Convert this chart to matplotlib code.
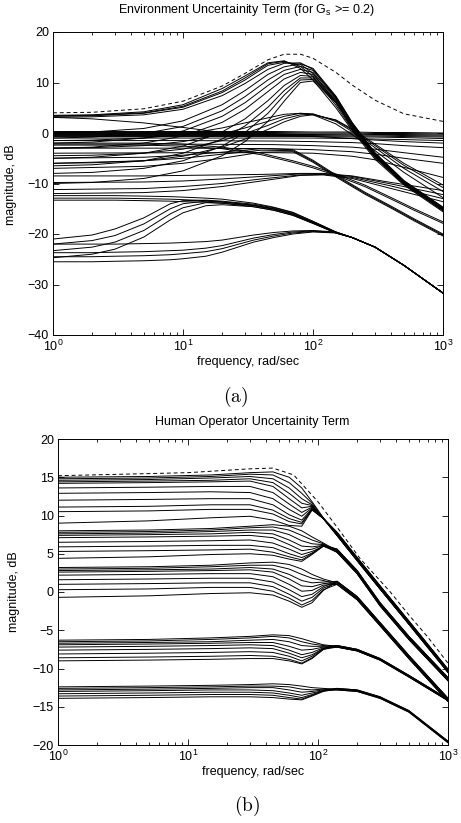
import matplotlib
matplotlib.use("Agg")
import matplotlib.pyplot as plt

plt.rcParams["font.family"] = ["Liberation Sans", "DejaVu Sans"]
plt.rcParams["mathtext.fontset"] = "custom"
plt.rcParams["mathtext.rm"] = "Liberation Sans"
plt.rcParams["mathtext.it"] = "Liberation Sans:italic"
plt.rcParams["mathtext.bf"] = "Liberation Sans:bold"

# ---------------- panel (a): environment uncertainty ----------------
FREQ_A = [1, 2, 5, 10, 20, 30, 45, 60, 80, 100, 150, 200, 300, 500, 1000]
env_bound = [4.0, 4.1, 4.8, 6.3, 9.3, 11.8, 14.5, 15.6, 15.6, 14.8, 12.0, 9.5, 6.5, 3.8, 2.3]
env_peak = [
    [3.5, 3.6, 4.2, 5.6, 8.8, 11.3, 13.9, 14.3, 12.8, 10.5, 5.0, 0.5, -5.2, -10.3, -15.6],
    [3.3, 3.4, 3.9, 5.1, 8.0, 10.5, 13.4, 14.0, 13.6, 11.8, 6.0, 1.2, -4.6, -9.9, -15.2],
    [3.1, 3.2, 3.6, 4.7, 7.4, 9.8, 12.6, 13.8, 13.9, 12.6, 7.0, 1.8, -4.2, -9.6, -14.9],
    [3.4, 3.5, 4.0, 5.3, 8.3, 10.9, 13.7, 14.2, 13.2, 11.2, 5.5, 0.8, -4.9, -10.1, -15.4],
    [0.0, 0.2, 0.9, 2.4, 5.6, 8.4, 11.6, 13.1, 13.7, 12.8, 7.3, 2.1, -3.9, -9.4, -14.7],
    [-1.0, -0.8, -0.1, 1.3, 4.4, 7.2, 10.5, 12.4, 13.2, 12.4, 7.2, 2.0, -4.0, -9.5, -14.7],
    [-2.0, -1.8, -1.0, 0.4, 3.3, 6.0, 9.4, 11.6, 12.6, 12.0, 7.0, 1.8, -4.1, -9.6, -14.8],
    [-3.0, -2.8, -2.0, -0.6, 2.1, 4.7, 8.2, 10.7, 12.0, 11.6, 6.8, 1.7, -4.2, -9.7, -14.9],
    [-5.0, -4.8, -4.0, -2.6, 0.2, 2.8, 6.4, 9.4, 11.4, 11.2, 6.6, 1.5, -4.4, -9.8, -15.0],
    [-6.5, -6.3, -5.5, -4.0, -1.2, 1.4, 5.1, 8.4, 10.9, 10.9, 6.4, 1.3, -4.5, -9.9, -15.1],
    [-8.0, -7.8, -7.0, -5.5, -2.6, 0.1, 3.9, 7.5, 10.5, 10.6, 6.2, 1.2, -4.6, -10.0, -15.2],
    [-10.0, -9.8, -9.0, -7.5, -4.5, -1.7, 2.3, 6.3, 10.0, 10.3, 6.0, 1.0, -4.7, -10.1, -15.3],
]
env_hump = [
    [3.1, 2.8, 2.0, 1.1, 0.1, -0.2, -0.4, -0.5, -0.6, -0.7, -0.9, -1.1, -1.4, -1.7, -2.0],
    [-1.5, -1.4, -1.0, -0.3, 1.0, 2.0, 3.0, 3.7, 3.9, 3.6, 1.8, -0.3, -3.5, -7.8, -12.8],
    [-3.0, -2.9, -2.5, -1.7, -0.2, 1.0, 2.3, 3.3, 3.9, 3.8, 2.3, 0.3, -2.9, -7.0, -11.6],
    [-4.5, -4.4, -4.0, -3.2, -1.5, -0.1, 1.5, 2.8, 3.6, 3.7, 2.5, 0.6, -2.5, -6.4, -10.8],
    [-6.0, -5.9, -5.5, -4.6, -2.8, -1.2, 0.7, 2.2, 3.3, 3.6, 2.6, 0.8, -2.2, -6.0, -10.3],
]

FREQ_FLAT = [1, 10, 50, 100, 200, 300, 500, 1000]
env_flat = [
    [0.3, 0.3, 0.3, 0.2, 0.2, 0.1, 0.1, 0.0],
    [0.1, 0.1, 0.1, 0.0, 0.0, -0.1, -0.1, -0.2],
    [-0.1, -0.1, -0.1, -0.2, -0.2, -0.3, -0.3, -0.4],
    [-0.3, -0.3, -0.3, -0.3, -0.4, -0.4, -0.5, -0.6],
    [-0.5, -0.5, -0.5, -0.5, -0.6, -0.6, -0.7, -0.8],
    [-0.7, -0.7, -0.7, -0.7, -0.8, -0.8, -0.9, -1.1],
    [-1.0, -1.0, -1.0, -1.0, -1.1, -1.2, -1.3, -1.5],
    [-1.5, -1.5, -1.6, -1.7, -1.9, -2.1, -2.5, -2.9],
    [-2.2, -2.2, -2.3, -2.5, -2.8, -3.2, -3.9, -4.8],
    [-3.0, -3.0, -3.1, -3.3, -3.7, -4.2, -5.0, -6.0],
    [-4.0, -3.9, -3.9, -4.0, -4.6, -5.3, -6.8, -8.8],
]

FREQ_DROP = [1, 5, 10, 20, 40, 70, 100, 150, 250, 400, 600, 1000]
env_drop = [
    [-2.0, -2.0, -2.2, -2.8, -4.0, -5.5, -6.6, -8.1, -10.3, -12.8, -15.0, -17.6],
    [-2.4, -2.4, -2.6, -3.1, -4.3, -5.8, -6.9, -8.4, -10.6, -13.1, -15.3, -17.9],
    [-5.0, -4.8, -4.4, -3.8, -3.1, -3.3, -5.4, -8.3, -11.7, -14.5, -17.0, -20.0],
    [-6.0, -5.5, -5.0, -4.2, -3.4, -3.5, -5.6, -8.5, -11.9, -14.7, -17.2, -20.2],
    [-7.0, -6.6, -6.0, -5.0, -3.8, -3.7, -5.8, -8.7, -12.1, -14.9, -17.4, -20.4],
]

FREQ_MID = [1, 5, 10, 20, 40, 80, 120, 200, 400, 1000]
env_mid = [
    [-8.5, -8.5, -8.4, -8.3, -8.2, -8.0, -8.0, -8.5, -9.8, -11.4],
    [-9.8, -9.7, -9.5, -9.1, -8.6, -8.1, -8.1, -8.6, -10.1, -12.2],
    [-11.2, -11.0, -10.6, -10.0, -9.1, -8.3, -8.2, -8.8, -10.5, -13.0],
    [-12.0, -11.8, -11.4, -10.6, -9.5, -8.4, -8.3, -9.0, -11.0, -13.6],
]

FREQ_LOW = [1, 2, 3, 5, 8, 10, 15, 20, 35, 50, 70, 100, 150, 200, 300, 500, 1000]
env_low = [
    [-12.4, -12.4, -12.4, -12.5, -12.6, -12.7, -12.9, -13.1, -13.9, -14.7, -15.7, -17.5, -19.6, -20.7, -22.6, -26.2, -31.7],
    [-12.9, -12.9, -12.9, -13.0, -13.1, -13.2, -13.4, -13.6, -14.3, -15.0, -16.0, -17.7, -19.7, -20.7, -22.6, -26.2, -31.7],
    [-13.3, -13.3, -13.3, -13.4, -13.5, -13.6, -13.7, -13.9, -14.6, -15.3, -16.3, -17.9, -19.8, -20.7, -22.6, -26.2, -31.7],
    [-21.0, -20.2, -19.0, -16.8, -14.0, -13.4, -13.3, -13.5, -14.1, -14.8, -15.8, -17.5, -19.6, -20.7, -22.6, -26.2, -31.7],
    [-22.0, -21.3, -20.3, -18.0, -15.0, -14.0, -13.5, -13.7, -14.3, -15.0, -16.0, -17.7, -19.7, -20.7, -22.6, -26.2, -31.7],
    [-23.3, -22.6, -21.6, -19.3, -16.0, -14.8, -13.8, -13.9, -14.4, -15.1, -16.1, -17.8, -19.8, -20.7, -22.6, -26.2, -31.7],
    [-24.7, -24.0, -23.0, -20.6, -17.2, -15.8, -14.4, -14.2, -14.6, -15.3, -16.3, -17.9, -19.8, -20.7, -22.6, -26.2, -31.7],
    [-22.0, -22.0, -22.0, -21.9, -21.8, -21.7, -21.5, -21.2, -20.2, -19.7, -19.4, -19.3, -19.6, -20.7, -22.6, -26.2, -31.7],
    [-23.7, -23.7, -23.6, -23.5, -23.3, -23.2, -22.8, -22.3, -20.8, -20.1, -19.6, -19.4, -19.7, -20.7, -22.6, -26.2, -31.7],
    [-24.5, -24.5, -24.4, -24.3, -24.1, -23.9, -23.5, -22.9, -21.2, -20.4, -19.8, -19.5, -19.7, -20.7, -22.6, -26.2, -31.7],
    [-25.5, -25.5, -25.4, -25.3, -25.1, -24.9, -24.4, -23.6, -21.6, -20.7, -20.0, -19.6, -19.8, -20.7, -22.6, -26.2, -31.7],
]

# ---------------- panel (b): human operator uncertainty ----------------
FREQ_B_BOUND = [1, 10, 30, 45, 65, 100, 150, 210, 360, 500, 700, 1000]
hum_bound = [15.2, 15.6, 16.1, 16.2, 15.3, 11.8, 7.8, 4.4, 0.0, -3.0, -5.9, -9.3]

FREQ_B_HEAD = [1, 5, 15, 30, 45, 60, 75, 90, 110]
FREQ_B_TAIL = [140, 200, 300, 500, 1000]

hum_top = [
    [15.0, 15.1, 15.3, 15.6, 15.7, 15.0, 13.6, 11.8, 9.7],
    [14.8, 14.9, 15.1, 15.4, 15.3, 14.3, 12.9, 11.6, 9.6],
    [14.6, 14.7, 14.9, 15.1, 14.8, 13.6, 12.2, 11.4, 9.6],
    [14.4, 14.5, 14.6, 14.8, 14.3, 12.9, 11.6, 11.3, 9.6],
    [14.2, 14.3, 14.4, 14.5, 13.8, 12.2, 11.0, 11.2, 9.6],
    [13.6, 13.7, 13.8, 13.8, 13.0, 11.5, 10.4, 11.1, 9.6],
    [12.9, 13.0, 13.1, 13.0, 12.2, 10.8, 9.9, 11.0, 9.6],
    [12.0, 12.1, 12.2, 12.2, 11.4, 10.1, 9.4, 10.9, 9.6],
    [11.1, 11.2, 11.4, 11.4, 10.7, 9.6, 9.1, 10.8, 9.6],
    [10.5, 10.6, 10.8, 10.8, 10.2, 9.2, 8.9, 10.8, 9.6],
    [9.0, 9.3, 9.7, 9.9, 9.4, 8.7, 8.6, 10.7, 9.6],
]
hum_top_tail = [
    [7.6, 4.3, 0.6, -4.0, -10.3],
    [7.4, 4.1, 0.4, -4.2, -10.5],
    [7.8, 4.5, 0.8, -3.8, -10.1],
]

hum_mid = [
    [8.0, 8.1, 8.3, 8.6, 8.8, 8.6, 8.0, 7.2, 6.4],
    [7.8, 7.9, 8.1, 8.4, 8.5, 8.1, 7.4, 6.8, 6.3],
    [7.6, 7.7, 7.9, 8.1, 8.1, 7.5, 6.7, 6.3, 6.2],
    [7.4, 7.5, 7.6, 7.8, 7.6, 6.8, 6.0, 5.9, 6.1],
    [7.1, 7.2, 7.3, 7.4, 7.1, 6.2, 5.4, 5.6, 6.1],
    [6.5, 6.6, 6.7, 6.8, 6.4, 5.6, 4.9, 5.3, 6.0],
    [5.9, 6.0, 6.1, 6.1, 5.8, 5.0, 4.5, 5.1, 6.0],
    [5.3, 5.4, 5.5, 5.6, 5.2, 4.6, 4.2, 5.0, 6.0],
    [4.4, 4.6, 4.9, 5.0, 4.8, 4.3, 4.0, 4.9, 6.0],
]
hum_mid_tail = [
    [5.4, 2.6, -1.6, -6.0, -11.4],
    [5.2, 2.4, -1.8, -6.2, -11.6],
    [5.6, 2.8, -1.4, -5.8, -11.2],
]

hum_low = [
    [3.2, 3.3, 3.5, 3.8, 3.9, 3.6, 3.0, 2.3, 1.7],
    [3.0, 3.1, 3.3, 3.5, 3.5, 3.0, 2.3, 1.8, 1.5],
    [2.8, 2.9, 3.0, 3.2, 3.0, 2.3, 1.5, 1.2, 1.3],
    [2.6, 2.7, 2.8, 2.9, 2.6, 1.7, 0.8, 0.7, 1.1],
    [2.2, 2.3, 2.4, 2.4, 2.0, 1.0, 0.1, 0.2, 0.9],
    [1.6, 1.7, 1.8, 1.8, 1.3, 0.3, -0.6, -0.3, 0.7],
    [1.0, 1.1, 1.2, 1.2, 0.7, -0.3, -1.2, -0.7, 0.5],
    [0.3, 0.4, 0.6, 0.6, 0.1, -0.8, -1.7, -1.1, 0.3],
    [-0.7, -0.5, -0.2, -0.1, -0.4, -1.2, -2.0, -1.4, 0.2],
]
hum_low_tail = [
    [1.2, -0.8, -4.2, -8.5, -14.1],
    [1.0, -1.0, -4.4, -8.7, -14.3],
    [1.4, -0.6, -4.0, -8.3, -13.9],
]

hum_neg6 = [
    [-6.3, -6.2, -6.0, -5.8, -5.6, -5.7, -6.1, -6.5, -6.9],
    [-6.5, -6.4, -6.2, -6.0, -5.8, -6.0, -6.5, -6.8, -7.0],
    [-6.7, -6.6, -6.5, -6.3, -6.2, -6.5, -7.0, -7.1, -7.1],
    [-6.9, -6.8, -6.7, -6.6, -6.6, -7.1, -7.6, -7.5, -7.2],
    [-7.2, -7.1, -7.0, -6.9, -7.0, -7.6, -8.2, -7.9, -7.3],
    [-7.6, -7.5, -7.4, -7.3, -7.4, -8.0, -8.6, -8.2, -7.4],
    [-8.1, -8.0, -7.9, -7.8, -7.9, -8.4, -9.0, -8.4, -7.4],
    [-8.6, -8.5, -8.4, -8.3, -8.4, -8.8, -9.3, -8.6, -7.5],
    [-9.0, -8.9, -8.8, -8.7, -8.7, -9.0, -9.4, -8.7, -7.5],
]
hum_neg6_tail = [
    [-7.1, -7.6, -8.8, -11.0, -14.1],
    [-7.2, -7.7, -8.9, -11.1, -14.2],
    [-7.0, -7.5, -8.7, -10.9, -14.0],
]

hum_neg13 = [
    [-12.4, -12.3, -12.2, -12.1, -12.0, -12.1, -12.3, -12.5, -12.6],
    [-12.6, -12.5, -12.4, -12.3, -12.3, -12.4, -12.7, -12.8, -12.7],
    [-12.8, -12.7, -12.6, -12.5, -12.5, -12.8, -13.1, -13.0, -12.8],
    [-13.0, -12.9, -12.8, -12.8, -12.9, -13.2, -13.5, -13.2, -12.9],
    [-13.3, -13.2, -13.1, -13.1, -13.2, -13.5, -13.8, -13.4, -12.9],
    [-13.6, -13.5, -13.4, -13.4, -13.5, -13.8, -14.0, -13.5, -12.9],
    [-13.9, -13.8, -13.7, -13.7, -13.8, -14.0, -14.1, -13.6, -13.0],
]
hum_neg13_tail = [
    [-12.7, -12.9, -13.8, -15.6, -19.6],
    [-12.8, -13.0, -13.9, -15.7, -19.7],
    [-12.6, -12.8, -13.7, -15.5, -19.5],
]

LW = 0.7


def draw_rows(ax, freq, rows):
    for r in rows:
        ax.plot(freq, r, color="black", lw=LW)


def draw_band(ax, heads, tails):
    for i, h in enumerate(heads):
        ax.plot(FREQ_B_HEAD + FREQ_B_TAIL, h + tails[i % len(tails)],
                color="black", lw=LW)


def style(ax, ylim, yticks):
    ax.set_xscale("log")
    ax.set_xlim(1, 1000)
    ax.set_ylim(*ylim)
    ax.set_yticks(yticks)
    ax.tick_params(which="both", direction="in", top=True, right=True,
                   labelsize=9, width=0.6, pad=3)
    ax.tick_params(which="major", length=4)
    ax.tick_params(which="minor", length=2)
    for s in ax.spines.values():
        s.set_linewidth(0.7)
    ax.set_xlabel("frequency, rad/sec", fontsize=9, labelpad=1)


fig = plt.figure(figsize=(4.61, 8.23), dpi=100)

ax1 = fig.add_axes([53 / 461, 1 - 335 / 823, 390 / 461, 303 / 823])
draw_rows(ax1, FREQ_A, env_peak)
draw_rows(ax1, FREQ_A, env_hump)
draw_rows(ax1, FREQ_FLAT, env_flat)
draw_rows(ax1, FREQ_DROP, env_drop)
draw_rows(ax1, FREQ_MID, env_mid)
draw_rows(ax1, FREQ_LOW, env_low)
ax1.plot(FREQ_A, env_bound, color="black", lw=LW, dashes=(4, 3))
style(ax1, (-40, 20), [-40, -30, -20, -10, 0, 10, 20])

ax2 = fig.add_axes([58 / 461, 1 - 745 / 823, 390 / 461, 306 / 823])
draw_band(ax2, hum_top, hum_top_tail)
draw_band(ax2, hum_mid, hum_mid_tail)
draw_band(ax2, hum_low, hum_low_tail)
draw_band(ax2, hum_neg6, hum_neg6_tail)
draw_band(ax2, hum_neg13, hum_neg13_tail)
ax2.plot(FREQ_B_BOUND, hum_bound, color="black", lw=LW, dashes=(4, 3))
style(ax2, (-20, 20), [-20, -15, -10, -5, 0, 5, 10, 15, 20])

fig.text(246 / 461, 1 - 10 / 823, "Environment Uncertainity Term (for G$_\\mathrm{s}$ >= 0.2)",
         ha="center", va="center", fontsize=9)
fig.text(252 / 461, 1 - 422 / 823, "Human Operator Uncertainity Term",
         ha="center", va="center", fontsize=9)
fig.text(11 / 461, 1 - 185 / 823, "magnitude, dB", rotation=90,
         ha="center", va="center", fontsize=9)
fig.text(14 / 461, 1 - 592 / 823, "magnitude, dB", rotation=90,
         ha="center", va="center", fontsize=9)
fig.text(236 / 461, 1 - 397 / 823, r"$\mathrm{(a)}$", math_fontfamily="cm",
         ha="center", va="center", fontsize=14)
fig.text(247 / 461, 1 - 806 / 823, r"$\mathrm{(b)}$", math_fontfamily="cm",
         ha="center", va="center", fontsize=14)

fig.savefig("out.png", dpi=100)
